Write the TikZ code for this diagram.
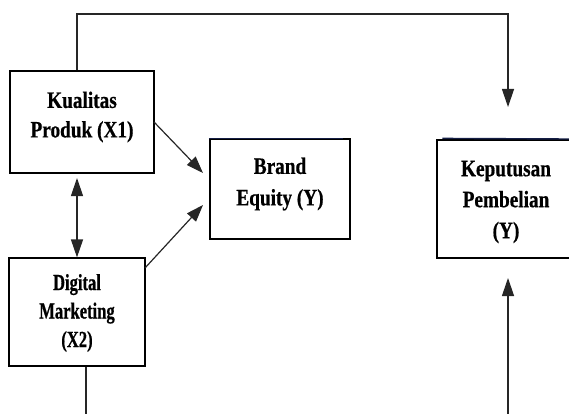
\documentclass[tikz,border=0pt]{standalone}
\usepackage{fontspec}
\setmainfont{Liberation Serif}
\newfontfamily\condA[FakeStretch=0.82,BoldFeatures={FakeBold=0.6}]{Liberation Serif}
\newfontfamily\condB[FakeStretch=0.72,BoldFeatures={FakeBold=0.6}]{Liberation Serif}
\usetikzlibrary{arrows.meta}
\definecolor{navy}{RGB}{20,30,70}
\begin{document}
\begin{tikzpicture}[x=1pt,y=-1pt,
  box/.style={draw=black,line width=1.2pt,inner sep=0pt},
  txt/.style={inner sep=0pt,align=center,
    font=\condA\fontsize{23.5}{29.5}\selectfont\bfseries},
  txtw/.style={txt,font=\condA\fontsize{23.5}{31.5}\selectfont\bfseries},
  txts/.style={inner sep=0pt,align=center,
    font=\condB\fontsize{23}{28.5}\selectfont\bfseries},
  conn/.style={draw=black!85,line width=1.2pt},
  tip/.style={-{Triangle[length=18pt,width=12pt]}},
  tipd/.style={-{Triangle[length=17pt,width=12pt]}}]
\path[use as bounding box] (0,0) rectangle (569,414);
\clip (0,0) rectangle (569,414);
\node[box,minimum width=144pt,minimum height=102pt] (kp) at (82,122) {};
\node[txt] (kpt) at (82,117) {Kualitas\\Produk (X1)};
\node[box,minimum width=136pt,minimum height=108pt] (dm) at (77,312) {};
\node[txts] (dmt) at (77,313) {Digital\\Marketing\\(X2)};
\node[box,minimum width=140pt,minimum height=100pt] (be) at (280,189) {};
\node[txtw] (bet) at (280,184) {Brand\\Equity (Y)};
\node[box,minimum width=138pt,minimum height=118pt] (kpb) at (506,199) {};
\node[txtw,font=\condA\fontsize{23.5}{31}\selectfont\bfseries] (kpbt) at (506,202) {Keputusan\\Pembelian\\(Y)};
% navy top edges
\draw[navy,line width=1.4pt] ([xshift=-0.5pt]be.north west) -- ([xshift=-8pt]be.north east);
\draw[navy,line width=1.4pt] ([xshift=6pt,yshift=1pt]kpb.north west) -- (569,139);
% connectors
\coordinate (topin) at (508,107);
\draw[conn,tip] (kp.north west -| 77,0) |- (77,14) -| (topin);
\coordinate (bl) at (86,414);
\draw[conn] (dm.south west -| 86,0) -- (bl);
\coordinate (br) at (508,414);
\coordinate (botin) at (508,278);
\draw[conn,tip] (br) -- (botin);
\coordinate (dtop) at (77,178);
\draw[conn,{Triangle[length=18pt,width=12pt]}-{Triangle[length=18pt,width=12pt]}] (dtop) -- (dm.north west -| 77,0);
\coordinate (a1) at (154,122);
\coordinate (a1e) at (203,173);
\draw[conn,tipd] (a1) -- (a1e);
\coordinate (a2) at (145,268);
\coordinate (a2e) at (203,205);
\draw[conn,tipd] (a2) -- (a2e);
\end{tikzpicture}
\end{document}
